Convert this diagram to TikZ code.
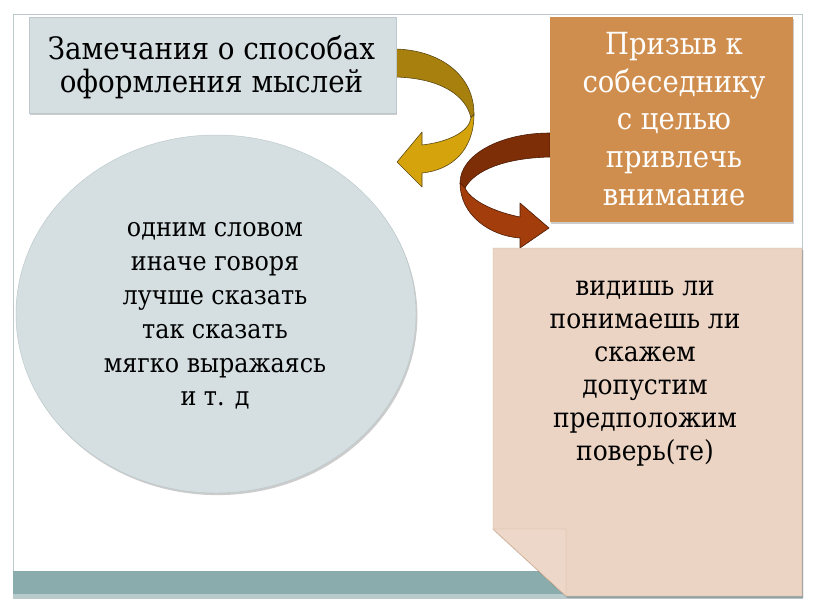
\documentclass[tikz,border=0pt]{standalone}
\usepackage{fontspec}
\setmainfont[FakeStretch=0.9]{DejaVu Serif}
\usetikzlibrary{shadows}

\definecolor{framegray}{HTML}{BCC8CB}
\definecolor{bargreen}{HTML}{8AACAD}
\definecolor{barlight}{HTML}{B7CBCC}
\definecolor{boxgray}{HTML}{D5DFE2}
\definecolor{boxorange}{HTML}{CF8E4E}
\definecolor{notepink}{HTML}{EBD4C4}
\definecolor{noteedge}{HTML}{D2B194}
\definecolor{golddark}{HTML}{A8800E}
\definecolor{goldlight}{HTML}{D5A30C}
\definecolor{goldedge}{HTML}{5A4814}
\definecolor{browndark}{HTML}{7E2E06}
\definecolor{brownlight}{HTML}{A33D0B}
\definecolor{brownedge}{HTML}{4A1A05}

\tikzset{
  softshadow/.style={drop shadow={shadow xshift=1.2pt,shadow yshift=-1.8pt,opacity=0.2,fill=black}},
  ribbon/.style={line width=0.5pt,line join=round}
}

\begin{document}
\begin{tikzpicture}[x=0.03cm,y=-0.03cm]
\useasboundingbox (0,0) rectangle (816,613);
\fill[white] (0,0) rectangle (816,613);

\draw[framegray,thin] (13,14) rectangle (802,598);
\fill[barlight] (13,571) rectangle (802,598);
\fill[bargreen] (13,571) rectangle (802,594);

\fill[golddark,draw=goldedge,ribbon] (395,49) .. controls (440,50) and (474,75) .. (474,114)
    -- (471,118) .. controls (466,95) and (440,78) .. (395,77) -- cycle;
\fill[goldlight,draw=goldedge,ribbon] (474,114) .. controls (474,150) and (452,170) .. (422,173)
    -- (422,187) -- (397,162) -- (422,132) -- (422,145)
    .. controls (448,142) and (469,132) .. (471,118) -- cycle;

\fill[browndark,draw=brownedge,ribbon] (550,133) .. controls (500,133) and (460,155) .. (460,183)
    -- (465,188) .. controls (475,170) and (505,158) .. (550,157) -- cycle;
\fill[brownlight,draw=brownedge,ribbon] (460,183) .. controls (460,215) and (490,236) .. (520,238)
    -- (520,248) -- (549,228) -- (520,203) -- (520,217)
    .. controls (495,212) and (471,201) .. (465,188) -- cycle;

\fill[boxgray,draw=framegray,softshadow] (29,17) rectangle (396,113);
\node[font=\fontsize{26.3}{28.3}\selectfont,align=center] (zamech) at (211.5,67)
  {Замечания о способах\\оформления мыслей};

\fill[boxorange,softshadow] (550,17) rectangle (793,222);
\node[font=\fontsize{26}{32.3}\selectfont,align=center,white] (prizyv) at (674,119)
  {Призыв к\\собеседнику\\с целью\\привлечь\\внимание};

\fill[boxgray,draw=framegray,softshadow] (216,314) ellipse [x radius=200,y radius=179];
\node[font=\fontsize{22.6}{28.9}\selectfont,align=center] (slova) at (215,316)
  {одним словом\\иначе говоря\\лучше сказать\\так сказать\\мягко выражаясь\\и т. д};

\fill[notepink,draw=noteedge,softshadow] (493,248) -- (802,248) -- (802,596) -- (566,596) -- (493,529) -- cycle;
\fill[notepink!92!white,draw=noteedge] (493,529) -- (566,529) -- (566,596) -- cycle;
\node[font=\fontsize{23.6}{28.2}\selectfont,align=center] (obrasch) at (645,373.4)
  {видишь ли\\понимаешь ли\\скажем\\допустим\\предположим\\поверь(те)};
\end{tikzpicture}
\end{document}
